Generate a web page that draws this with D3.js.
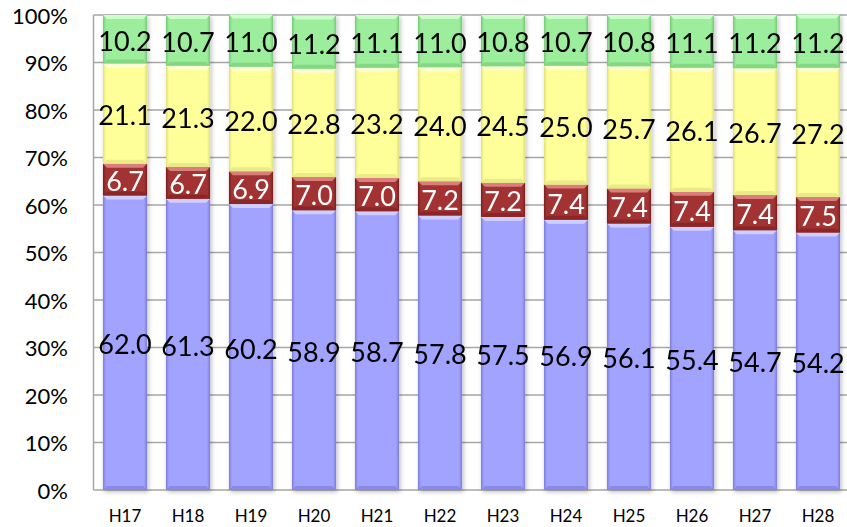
<!DOCTYPE html>
<html>
<head>
<meta charset="utf-8">
<script src="https://cdn.jsdelivr.net/npm/d3@7/dist/d3.min.js"></script>
<style>
  html, body { margin: 0; padding: 0; background: #fff; }
  svg { display: block; }
  text { font-family: Lato, "Open Sans", sans-serif; }
</style>
</head>
<body>
<svg id="chart" width="847" height="527"></svg>
<script>
// Fiscal years (Heisei)
const categories = ["H17","H18","H19","H20","H21","H22","H23","H24","H25","H26","H27","H28"];

// Share per year (%), stacked bottom to top
const seriesBlue   = [62.0, 61.3, 60.2, 58.9, 58.7, 57.8, 57.5, 56.9, 56.1, 55.4, 54.7, 54.2];
const seriesRed    = [6.7, 6.7, 6.9, 7.0, 7.0, 7.2, 7.2, 7.4, 7.4, 7.4, 7.4, 7.5];
const seriesYellow = [21.1, 21.3, 22.0, 22.8, 23.2, 24.0, 24.5, 25.0, 25.7, 26.1, 26.7, 27.2];
const seriesGreen  = [10.2, 10.7, 11.0, 11.2, 11.1, 11.0, 10.8, 10.7, 10.8, 11.1, 11.2, 11.2];

const yTicks = [0, 10, 20, 30, 40, 50, 60, 70, 80, 90, 100];

const keys = ["blue", "red", "yellow", "green"];
const palette = {
  blue:   { base: "#a2a2ff", dark: "#7c7cdc", light: "#d4d4ff", bottom: "#8686e6", label: "#000" },
  red:    { base: "#a33333", dark: "#7a1f1f", light: "#e08585", bottom: "#8a2727", label: "#fff" },
  yellow: { base: "#ffff99", dark: "#e0e07a", light: "#ffffdd", bottom: "#e8e884", label: "#000" },
  green:  { base: "#9cee9c", dark: "#74c874", light: "#d2ffd2", bottom: "#80d680", label: "#000" }
};

const rows = categories.map((c, i) => ({
  cat: c,
  blue: seriesBlue[i],
  red: seriesRed[i],
  yellow: seriesYellow[i],
  green: seriesGreen[i]
}));

const svg = d3.select("#chart");
const defs = svg.append("defs");

const x = d3.scaleBand().domain(categories).range([93.5, 849.5]).paddingInner(0.3).paddingOuter(0.15);
const y = d3.scaleLinear().domain([0, 100]).range([490, 15]);

// Gradients: darker side edges for the bevelled bars
keys.forEach(k => {
  const p = palette[k];
  const g = defs.append("linearGradient").attr("id", "g-" + k)
    .attr("x1", "0").attr("x2", "1").attr("y1", "0").attr("y2", "0");
  g.append("stop").attr("offset", "0").attr("stop-color", p.dark);
  g.append("stop").attr("offset", "0.07").attr("stop-color", p.base);
  g.append("stop").attr("offset", "0.93").attr("stop-color", p.base);
  g.append("stop").attr("offset", "1").attr("stop-color", p.dark);
});

const shadow = defs.append("filter").attr("id", "shadow")
  .attr("x", "-20%").attr("y", "-5%").attr("width", "150%").attr("height", "115%");
shadow.append("feDropShadow").attr("dx", 1.5).attr("dy", 2).attr("stdDeviation", 2)
  .attr("flood-color", "#000").attr("flood-opacity", 0.25);

// Gridlines
const grid = svg.append("g");
grid.selectAll("line").data(yTicks).join("line")
  .attr("x1", 93.5).attr("x2", 847)
  .attr("y1", d => y(d)).attr("y2", d => y(d))
  .attr("stroke", "#a6a6a6").attr("stroke-width", 1.5);

// Y axis line
svg.append("line")
  .attr("x1", 93.5).attr("x2", 93.5).attr("y1", y(100)).attr("y2", y(0))
  .attr("stroke", "#a6a6a6").attr("stroke-width", 1.5);

// Y tick labels
svg.append("g").selectAll("text").data(yTicks).join("text")
  .attr("x", 68).attr("y", d => y(d))
  .attr("text-anchor", "end").attr("dominant-baseline", "central")
  .attr("font-size", 22).attr("fill", "#000")
  .text(d => d + "%");

// X labels
svg.append("g").selectAll("text").data(categories).join("text")
  .attr("x", d => x(d) + x.bandwidth() / 2).attr("y", 515)
  .attr("text-anchor", "middle").attr("dominant-baseline", "central")
  .attr("font-size", 17).attr("fill", "#000")
  .text(d => d);

const stacked = d3.stack().keys(keys)(rows);
const bw = x.bandwidth();
const bev = 4;

const barsG = svg.append("g").attr("filter", "url(#shadow)");
stacked.forEach(layer => {
  const k = layer.key;
  const p = palette[k];
  const g = barsG.append("g");
  layer.forEach(seg => {
    const x0 = x(seg.data.cat);
    const yTop = y(seg[1]);
    const yBot = y(seg[0]);
    g.append("rect")
      .attr("x", x0).attr("y", yTop)
      .attr("width", bw).attr("height", yBot - yTop)
      .attr("fill", "url(#g-" + k + ")");
    // top bevel highlight
    g.append("polygon")
      .attr("points", [[x0, yTop], [x0 + bw, yTop], [x0 + bw - bev, yTop + bev], [x0 + bev, yTop + bev]].map(q => q.join(",")).join(" "))
      .attr("fill", p.light).attr("opacity", 0.9);
    // bottom bevel shade
    g.append("polygon")
      .attr("points", [[x0, yBot], [x0 + bw, yBot], [x0 + bw - bev, yBot - bev], [x0 + bev, yBot - bev]].map(q => q.join(",")).join(" "))
      .attr("fill", p.bottom).attr("opacity", 0.9);
  });
});

// Value labels
const labelsG = svg.append("g");
stacked.forEach(layer => {
  const k = layer.key;
  labelsG.selectAll(null).data(layer).join("text")
    .attr("x", d => x(d.data.cat) + bw / 2)
    .attr("y", d => y((d[0] + d[1]) / 2) + 1)
    .attr("text-anchor", "middle").attr("dominant-baseline", "central")
    .attr("font-size", 27).attr("fill", palette[k].label)
    .text(d => d.data[k].toFixed(1));
});
</script>
</body>
</html>
